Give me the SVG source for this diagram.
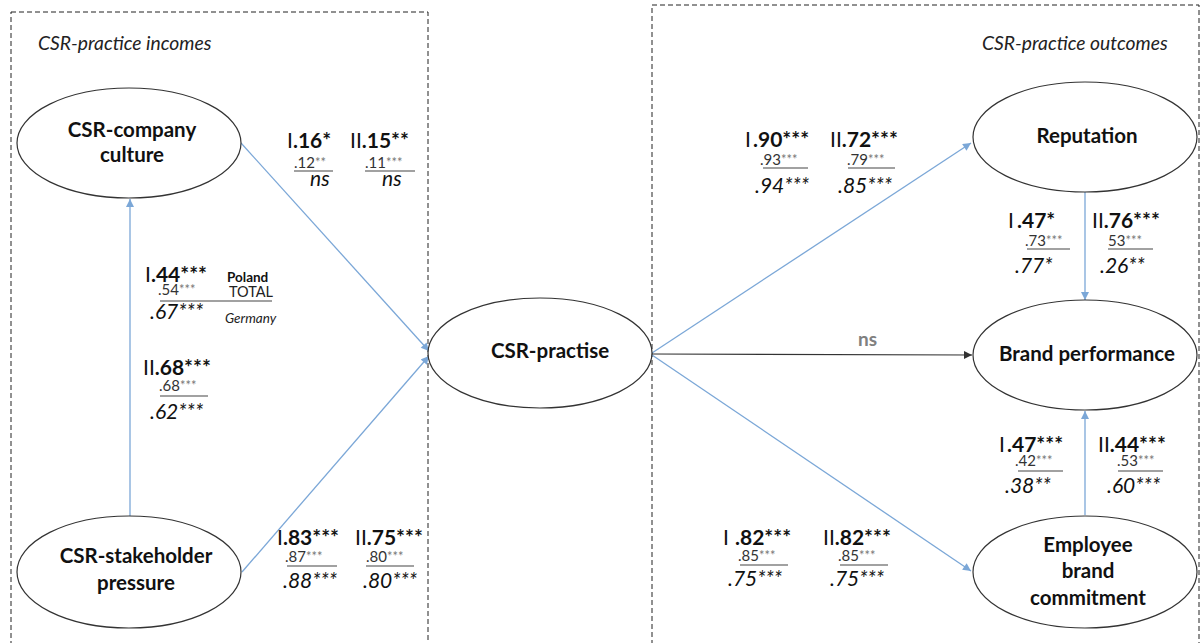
<svg xmlns="http://www.w3.org/2000/svg" width="1202" height="643" viewBox="0 0 1202 643">
<style>
.box{fill:none;stroke:#222;stroke-width:1;stroke-dasharray:5 3}
.node ellipse{fill:#fff;stroke:#333;stroke-width:1.2}
.nt{font-family:Lato,"Open Sans",sans-serif;font-weight:bold;font-size:20.5px;text-anchor:middle;fill:#111}
.title{font-family:Lato,"Open Sans",sans-serif;font-style:italic;font-size:19.3px;fill:#222}
text{font-family:Lato,"Open Sans",sans-serif}
.c1{font-size:21px;font-weight:bold;fill:#111}
.r{font-weight:normal}
.c2{font-size:15px;fill:#333}
.s{fill:#777;font-size:13px}
.c3{font-style:italic;font-size:21px;fill:#111}
.sm{font-size:13.5px;font-weight:bold;fill:#111}
.tot{font-size:14.5px;fill:#222}
.ger{font-size:13.5px;font-style:italic;fill:#222}
.ns{font-size:19px;font-weight:bold;fill:#808080}
.ul{stroke:#444;stroke-width:1.2}
.blue{stroke:#7ba7d7;stroke-width:1.3;fill:none;marker-end:url(#ab)}
.black{stroke:#333;stroke-width:1.2;fill:none;marker-end:url(#ak)}
</style>
<defs>
<marker id="ab" viewBox="0 0 10 10" refX="10" refY="5" markerWidth="9" markerHeight="8" markerUnits="userSpaceOnUse" orient="auto"><path d="M0,0 L10,5 L0,10 z" fill="#7ba7d7"/></marker>
<marker id="ak" viewBox="0 0 10 10" refX="10" refY="5" markerWidth="9" markerHeight="8" markerUnits="userSpaceOnUse" orient="auto"><path d="M0,0 L10,5 L0,10 z" fill="#333"/></marker>
</defs>
<rect width="1202" height="643" fill="#fff"/>
<g id="boxes">
<rect class="box" x="11" y="12" width="417" height="640"/>
<rect class="box" x="652" y="5" width="547" height="645"/>
<text class="title" x="38" y="50">CSR-practice incomes</text>
<text class="title" x="982" y="50">CSR-practice outcomes</text>
</g>
<g id="connectors">
<line class="blue" x1="241" y1="143" x2="429" y2="351"/>
<line class="blue" x1="242" y1="572" x2="429" y2="356"/>
<line class="blue" x1="130" y1="516" x2="130" y2="199"/>
<line class="blue" x1="652" y1="353" x2="971" y2="143"/>
<line class="black" x1="652" y1="354" x2="972" y2="355"/>
<line class="blue" x1="652" y1="355" x2="971" y2="571"/>
<line class="blue" x1="1085" y1="192" x2="1085" y2="300"/>
<line class="blue" x1="1085" y1="515" x2="1085" y2="411"/>
</g>
<g id="culture" class="node"><ellipse cx="129" cy="143" rx="112" ry="55"/><text class="nt" x="132" y="137">CSR-company</text><text class="nt" x="132" y="162">culture</text></g>
<g id="stakeholder" class="node"><ellipse cx="129" cy="572" rx="112" ry="56"/><text class="nt" x="136" y="563">CSR-stakeholder</text><text class="nt" x="136" y="590">pressure</text></g>
<g id="practise" class="node"><ellipse cx="540" cy="353" rx="112" ry="55"/><text class="nt" x="550" y="358">CSR-practise</text></g>
<g id="reputation" class="node"><ellipse cx="1085" cy="137" rx="112" ry="55"/><text class="nt" x="1087" y="143">Reputation</text></g>
<g id="brand" class="node"><ellipse cx="1085" cy="355" rx="112" ry="55"/><text class="nt" x="1087" y="361">Brand performance</text></g>
<g id="employee" class="node"><ellipse cx="1085" cy="572" rx="112" ry="56"/><text class="nt" x="1088" y="552">Employee</text><text class="nt" x="1088" y="578">brand</text><text class="nt" x="1088" y="605">commitment</text></g>
<g id="labels">
<text class="ns" x="858" y="346">ns</text>
<!-- culture -> practise -->
<text class="c1" x="287" y="148"><tspan class="r">I</tspan>.16*</text>
<text class="c1" x="350" y="148"><tspan class="r">II</tspan>.15**</text>
<text class="c2" x="294" y="168">.12<tspan class="s" dy="-1">**</tspan></text>
<text class="c2" x="365" y="168">.11<tspan class="s" dy="-1">***</tspan></text>
<line class="ul" x1="294" y1="171" x2="333" y2="171"/>
<line class="ul" x1="365" y1="171" x2="415" y2="171"/>
<text class="c3" x="310" y="186">ns</text>
<text class="c3" x="382" y="186">ns</text>
<!-- stakeholder -> culture -->
<text class="c1" x="145" y="282"><tspan class="r">I</tspan>.44***</text>
<text class="sm" x="227" y="282">Poland</text>
<text class="c2" x="158" y="295">.54<tspan class="s" dy="-1">***</tspan></text>
<text class="tot" x="229" y="297">TOTAL</text>
<line class="ul" x1="160" y1="301" x2="272" y2="301"/>
<text class="c3" x="150" y="319">.67***</text>
<text class="ger" x="225" y="323">Germany</text>
<text class="c1" x="143" y="375"><tspan class="r">II</tspan>.68***</text>
<text class="c2" x="159" y="391">.68<tspan class="s" dy="-1">***</tspan></text>
<line class="ul" x1="160" y1="396" x2="208" y2="396"/>
<text class="c3" x="150" y="419">.62***</text>
<!-- stakeholder -> practise -->
<text class="c1" x="277" y="545"><tspan class="r">I</tspan>.83***</text>
<text class="c1" x="355" y="545"><tspan class="r">II</tspan>.75***</text>
<text class="c2" x="285" y="562">.87<tspan class="s" dy="-1">***</tspan></text>
<text class="c2" x="366" y="562">.80<tspan class="s" dy="-1">***</tspan></text>
<line class="ul" x1="287" y1="566" x2="337" y2="566"/>
<line class="ul" x1="366" y1="566" x2="414" y2="566"/>
<text class="c3" x="283" y="588">.88***</text>
<text class="c3" x="363" y="588">.80***</text>
<!-- practise -> reputation -->
<text class="c1" x="745" y="147"><tspan class="r">I</tspan><tspan x="753">.90***</tspan></text>
<text class="c1" x="830" y="147"><tspan class="r">II</tspan>.72***</text>
<text class="c2" x="760" y="165">.93<tspan class="s" dy="-1">***</tspan></text>
<text class="c2" x="847" y="165">.79<tspan class="s" dy="-1">***</tspan></text>
<line class="ul" x1="763" y1="168" x2="808" y2="168"/>
<line class="ul" x1="848" y1="168" x2="895" y2="168"/>
<text class="c3" x="755" y="193">.94***</text>
<text class="c3" x="838" y="193">.85***</text>
<!-- reputation -> brand -->
<text class="c1" x="1008" y="228"><tspan class="r">I</tspan><tspan x="1017">.47*</tspan></text>
<text class="c1" x="1092" y="228"><tspan class="r">II</tspan>.76***</text>
<text class="c2" x="1025" y="246">.73<tspan class="s" dy="-1">***</tspan></text>
<text class="c2" x="1108" y="246">53<tspan class="s" dy="-1">***</tspan></text>
<line class="ul" x1="1027" y1="249" x2="1070" y2="249"/>
<line class="ul" x1="1108" y1="249" x2="1153" y2="249"/>
<text class="c3" x="1015" y="273">.77*</text>
<text class="c3" x="1100" y="273">.26**</text>
<!-- employee -> brand -->
<text class="c1" x="999" y="452"><tspan class="r">I</tspan><tspan x="1007">.47***</tspan></text>
<text class="c1" x="1098" y="452"><tspan class="r">II</tspan>.44***</text>
<text class="c2" x="1015" y="466">.42<tspan class="s" dy="-1">***</tspan></text>
<text class="c2" x="1117" y="466">.53<tspan class="s" dy="-1">***</tspan></text>
<line class="ul" x1="1018" y1="471" x2="1063" y2="471"/>
<line class="ul" x1="1118" y1="471" x2="1163" y2="471"/>
<text class="c3" x="1005" y="493">.38**</text>
<text class="c3" x="1107" y="493">.60***</text>
<!-- practise -> employee -->
<text class="c1" x="723" y="545"><tspan class="r">I</tspan><tspan x="735">.82***</tspan></text>
<text class="c1" x="823" y="545"><tspan class="r">II</tspan>.82***</text>
<text class="c2" x="738" y="561">.85<tspan class="s" dy="-1">***</tspan></text>
<text class="c2" x="838" y="561">.85<tspan class="s" dy="-1">***</tspan></text>
<line class="ul" x1="740" y1="565" x2="788" y2="565"/>
<line class="ul" x1="840" y1="565" x2="888" y2="565"/>
<text class="c3" x="728" y="586">.75***</text>
<text class="c3" x="830" y="586">.75***</text>
</g>
</svg>
